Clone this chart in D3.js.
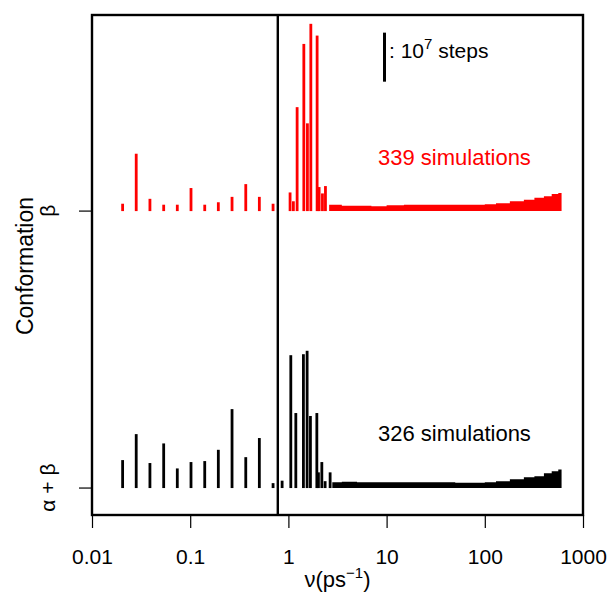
<!DOCTYPE html>
<html>
<head>
<meta charset="utf-8">
<script src="https://cdn.jsdelivr.net/npm/d3@7"></script>
<style>
  body { margin: 0; background: #fff; }
  svg text { font-family: "Liberation Sans", Arial, Helvetica, sans-serif; }
</style>
</head>
<body>
<div id="chart"></div>
<script>
// frequencies (ps^-1) and counts (units of 10^6 steps)
const lowNu = [0.0205, 0.0282, 0.0389, 0.0537, 0.0739, 0.1019, 0.1406, 0.1934, 0.2667, 0.368, 0.506, 0.698]

const betaNu = [...lowNu, 1.04, 1.124, 1.227, 1.436, 1.562, 1.692, 1.961, 2.055, 2.222, 2.384]
const betaSteps = [1.4, 11.6, 2.4, 1.2, 1.2, 4.6, 1.2, 1.7, 2.8, 5.4, 2.8, 1.4,
                   3.7, 1.9, 21.1, 34.0, 17.8, 38.1, 35.7, 4.8, 3.5, 5.0]

const abNu = [...lowNu, 0.863, 1.058, 1.19, 1.422, 1.551, 1.676, 1.948, 2.022, 2.19, 2.366, 2.66]
const abSteps = [5.6, 10.9, 5.0, 9.0, 3.9, 5.2, 5.4, 7.7, 16.0, 6.2, 10.1, 0.9,
                 1.4, 27.0, 15.2, 27.2, 27.9, 14.6, 15.2, 3.1, 5.2, 1.3, 3.1]

// dense high-frequency tails
const betaTailNu = [2.6, 3.5, 5, 7, 10, 15, 20, 30, 50, 70, 100, 130, 180, 250, 320, 400, 480, 560, 605]
const betaTail = [1.2, 1.0, 1.0, 0.9, 1.1, 1.2, 1.2, 1.2, 1.2, 1.2, 1.3, 1.5, 1.9, 2.2, 2.6, 2.9, 3.4, 3.6, 3.9]
const abTailNu = [2.8, 3.5, 5, 7, 10, 15, 20, 30, 50, 70, 100, 130, 180, 250, 320, 400, 480, 560, 605]
const abTail = [1.1, 1.2, 1.1, 1.1, 1.1, 1.1, 1.1, 1.1, 1.0, 1.0, 1.1, 1.3, 1.7, 2.1, 2.3, 2.9, 3.3, 3.7, 3.9]

const conformations = ['α + β', 'β']
const offsets = [0, 56.5]
const simLabels = ['326 simulations', '339 simulations']
const colors = ['#000000', '#ff0000']

const xTicks = [0.01, 0.1, 1, 10, 100, 1000]
const cutoff = 0.78
const scaleBar = 10   // 10^7 steps

const dimension = { width: 611, height: 594, left: 92, right: 583, top: 15, bottom: 515 }

const svg = d3.select('#chart')
    .append('svg')
    .attr('width', dimension.width)
    .attr('height', dimension.height)

const x = d3.scaleLog()
    .domain([0.01, 1000])
    .range([dimension.left, dimension.right])

const y = d3.scaleLinear()
    .domain([-5.6, 96.4])
    .range([dimension.bottom, dimension.top])

const series = [
    { nu: abNu, steps: abSteps, tNu: abTailNu, tail: abTail },
    { nu: betaNu, steps: betaSteps, tNu: betaTailNu, tail: betaTail }
]

series.forEach((s, i) => {
    const off = offsets[i]
    const g = svg.append('g').attr('fill', colors[i])

    g.selectAll('rect')
        .data(s.nu.map((n, j) => ({ nu: n, v: s.steps[j] })))
        .join('rect')
        .attr('x', d => x(d.nu) - 1.4)
        .attr('width', 2.8)
        .attr('y', d => y(off + d.v))
        .attr('height', d => y(off) - y(off + d.v) + 0.5)

    const area = d3.area()
        .x(d => x(d.nu))
        .y0(y(off) + 0.5)
        .y1(d => y(off + d.v))
        .curve(d3.curveStepAfter)

    g.append('path')
        .datum(s.tNu.map((n, j) => ({ nu: n, v: s.tail[j] })))
        .attr('d', area)

    svg.append('text')
        .attr('x', 378)
        .attr('y', y(off + 9.4))
        .attr('fill', colors[i])
        .style('font-size', '22px')
        .text(simLabels[i])
})

// cutoff line
svg.append('line')
    .attr('x1', x(cutoff)).attr('x2', x(cutoff))
    .attr('y1', dimension.top).attr('y2', dimension.bottom)
    .attr('stroke', '#000').attr('stroke-width', 2.4)

// frame
svg.append('rect')
    .attr('x', dimension.left).attr('y', dimension.top)
    .attr('width', dimension.right - dimension.left)
    .attr('height', dimension.bottom - dimension.top)
    .attr('fill', 'none').attr('stroke', '#000').attr('stroke-width', 2.4)

// x axis
const xAxis = svg.append('g')
    .attr('transform', `translate(0, ${dimension.bottom})`)
    .call(d3.axisBottom(x).tickValues(xTicks).tickFormat(d => String(d)).tickSize(13).tickSizeOuter(0))
xAxis.select('.domain').remove()
xAxis.selectAll('line').attr('stroke-width', 1.2)
xAxis.selectAll('text').style('font-size', '21px').attr('dy', null).attr('y', 49)

const xl = svg.append('text')
    .attr('x', (dimension.left + dimension.right) / 2)
    .attr('y', 587)
    .attr('text-anchor', 'middle')
    .style('font-size', '22px')
xl.append('tspan').text('ν(ps')
xl.append('tspan').attr('dy', -9).style('font-size', '15px').text('−1')
xl.append('tspan').attr('dy', 9).text(')')

// y axis
const yAxis = svg.append('g')
    .attr('transform', `translate(${dimension.left}, 0)`)
    .call(d3.axisLeft(y).tickValues(offsets).tickFormat('').tickSize(13).tickSizeOuter(0))
yAxis.select('.domain').remove()
yAxis.selectAll('line').attr('stroke-width', 1.2)

svg.selectAll('.ylab')
    .data(offsets)
    .join('text')
    .attr('class', 'ylab')
    .attr('transform', (d, i) => `translate(55, ${y(d)}) rotate(-90)`)
    .attr('text-anchor', 'middle')
    .style('font-size', '21px')
    .text((d, i) => conformations[i])

svg.append('text')
    .attr('transform', `translate(33, 266) rotate(-90)`)
    .attr('text-anchor', 'middle')
    .style('font-size', '23px')
    .text('Conformation')

// scale bar: 10^7 steps
svg.append('rect')
    .attr('x', 383)
    .attr('width', 3)
    .attr('y', y(92.8))
    .attr('height', y(92.8 - scaleBar) - y(92.8))
    .attr('fill', '#000')

const sb = svg.append('text')
    .attr('x', 389)
    .attr('y', 58)
    .style('font-size', '21px')
sb.append('tspan').text(': 10')
sb.append('tspan').attr('dy', -9).style('font-size', '15px').text('7')
sb.append('tspan').attr('dy', 9).text(' steps')
</script>
</body>
</html>
